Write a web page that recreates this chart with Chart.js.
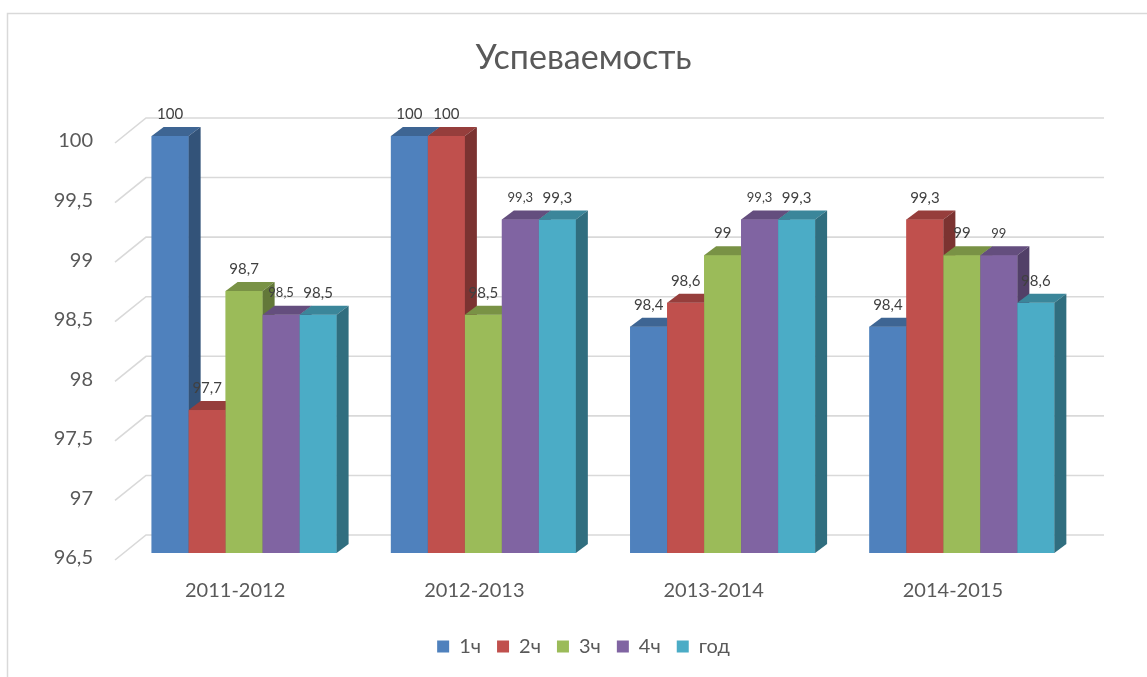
<!DOCTYPE html>
<html>
<head>
<meta charset="utf-8">
<script src="https://cdn.jsdelivr.net/npm/chart.js@4/dist/chart.umd.min.js"></script>
<style>
  html, body { margin: 0; padding: 0; background: #ffffff; }
  #wrap { width: 1147px; height: 677px; }
</style>
</head>
<body>
<div id="wrap"><canvas id="c" width="1147" height="677"></canvas></div>
<script>
// ---- data ----
const categories = ['2011-2012', '2012-2013', '2013-2014', '2014-2015'];
const seriesNames = ['1ч', '2ч', '3ч', '4ч', 'год'];
const q1 = [100, 100, 98.4, 98.4];
const q2 = [97.7, 100, 98.6, 99.3];
const q3 = [98.7, 98.5, 99, 99];
const q4 = [98.5, 99.3, 99.3, 99];
const year = [98.5, 99.3, 99.3, 98.6];
const yMin = 96.5;
const yMax = 100;
const yStep = 0.5;
const chartTitle = 'Успеваемость';

// ---- styles ----
const colors = ['#4F81BD', '#C0504D', '#9BBB59', '#8064A2', '#4BACC6'];
const labelSizes = [15, 15, 15, 13, 15];
const FONT = 'Lato, "Open Sans", sans-serif';
const TEXT = '#595959';
const DEPTH_X = 12, DEPTH_Y = 9;

function shade(hex, f) {
  const n = parseInt(hex.slice(1), 16);
  const r = Math.round(((n >> 16) & 255) * f);
  const g = Math.round(((n >> 8) & 255) * f);
  const b = Math.round((n & 255) * f);
  return 'rgb(' + r + ',' + g + ',' + b + ')';
}
const fmt = v => String(v).replace('.', ',');

const seriesValues = [q1, q2, q3, q4, year];
const datasets = seriesValues.map((vals, i) => ({
  label: seriesNames[i],
  data: vals,
  backgroundColor: colors[i],
  borderWidth: 0,
  base: yMin,
  categoryPercentage: 0.773,
  barPercentage: 1.0
}));

const bar3d = {
  id: 'bar3d',
  beforeDraw(chart) {
    const ctx = chart.ctx;
    const { left, right } = chart.chartArea;
    ctx.save();
    ctx.fillStyle = '#ffffff';
    ctx.fillRect(0, 0, chart.width, chart.height);
    // outer frame
    ctx.strokeStyle = '#D9D9D9';
    ctx.lineWidth = 1.5;
    ctx.beginPath();
    ctx.moveTo(7.5, chart.height + 2);
    ctx.lineTo(7.5, 13.5);
    ctx.lineTo(chart.width + 2, 13.5);
    ctx.stroke();
    // back wall grid lines
    const ys = chart.scales.y;
    ctx.strokeStyle = '#D9D9D9';
    ctx.lineWidth = 1.6;
    ys.ticks.forEach(t => {
      const y = ys.getPixelForValue(t.value);
      ctx.beginPath();
      ctx.moveTo(left - 9.5, y + 7);
      ctx.lineTo(left + 21.5, y - 18);
      ctx.lineTo(right + 22.5, y - 18);
      ctx.stroke();
    });
    ctx.restore();
  },
  afterDatasetsDraw(chart) {
    const ctx = chart.ctx;
    ctx.save();
    const n = chart.data.datasets.length;
    const bottom = chart.chartArea.bottom;
    for (let d = 0; d < n; d++) {
      const meta = chart.getDatasetMeta(d);
      const col = colors[d];
      meta.data.forEach(el => {
        const p = el.getProps(['x', 'y', 'base', 'width'], true);
        const l = p.x - p.width / 2, r = p.x + p.width / 2;
        const top = p.y, bot = Math.min(p.base, bottom);
        // front face
        ctx.fillStyle = col;
        ctx.fillRect(l, top, r - l, bot - top);
        // top face
        ctx.fillStyle = shade(col, 0.78);
        ctx.beginPath();
        ctx.moveTo(l, top);
        ctx.lineTo(r, top);
        ctx.lineTo(r + DEPTH_X, top - DEPTH_Y);
        ctx.lineTo(l + DEPTH_X, top - DEPTH_Y);
        ctx.closePath();
        ctx.fill();
        // side face
        ctx.fillStyle = shade(col, 0.64);
        ctx.beginPath();
        ctx.moveTo(r, top);
        ctx.lineTo(r + DEPTH_X, top - DEPTH_Y);
        ctx.lineTo(r + DEPTH_X, bot - DEPTH_Y);
        ctx.lineTo(r, bot);
        ctx.closePath();
        ctx.fill();
      });
    }
    // data labels
    ctx.fillStyle = '#404040';
    ctx.textAlign = 'center';
    ctx.textBaseline = 'middle';
    for (let d = 0; d < n; d++) {
      const meta = chart.getDatasetMeta(d);
      ctx.font = labelSizes[d] + 'px ' + FONT;
      meta.data.forEach((el, i) => {
        const p = el.getProps(['x', 'y'], true);
        ctx.fillText(fmt(chart.data.datasets[d].data[i]), p.x, p.y - 21.5);
      });
    }
    ctx.restore();
  }
};

new Chart(document.getElementById('c'), {
  type: 'bar',
  data: { labels: categories, datasets: datasets },
  plugins: [bar3d],
  options: {
    responsive: false,
    animation: false,
    layout: { padding: { left: 20, right: 0, top: 0, bottom: 10.5 } },
    plugins: {
      title: {
        display: true,
        text: chartTitle,
        color: TEXT,
        font: { family: FONT, size: 34, weight: 'normal' },
        padding: { top: 37.6, bottom: 57.6 }
      },
      legend: {
        position: 'bottom',
        labels: {
          color: TEXT,
          font: { family: FONT, size: 20 },
          boxWidth: 12,
          boxHeight: 12,
          padding: 16
        }
      },
      tooltip: { enabled: false }
    },
    scales: {
      x: {
        grid: { display: false, drawTicks: false },
        border: { display: false },
        ticks: {
          color: TEXT,
          font: { family: FONT, size: 20 },
          padding: 26,
          labelOffset: -9,
          maxRotation: 0,
          autoSkip: false
        },
        afterFit(scale) { scale.height = 67.5; }
      },
      y: {
        min: yMin,
        max: yMax,
        grid: { display: false, drawTicks: false },
        border: { display: false },
        ticks: {
          stepSize: yStep,
          color: TEXT,
          font: { family: FONT, size: 20 },
          padding: 31.5,
          labelOffset: 5,
          callback: v => fmt(v)
        },
        afterFit(scale) { scale.width = 104.5; }
      },
      yRight: {
        position: 'right',
        display: true,
        grid: { display: false, drawTicks: false },
        border: { display: false },
        ticks: { display: false },
        afterFit(scale) { scale.width = 65.5; }
      }
    }
  }
});
</script>
</body>
</html>
